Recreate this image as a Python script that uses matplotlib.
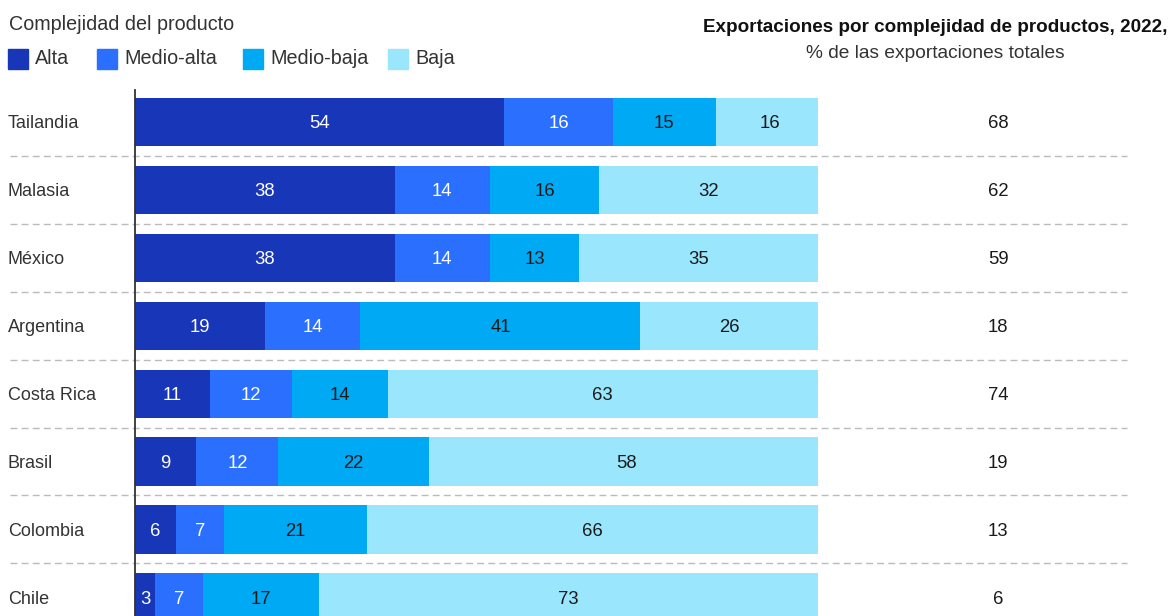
import numpy as np
import matplotlib.pyplot as plt
from matplotlib.patches import Rectangle

plt.rcParams['font.family'] = ['Liberation Sans', 'DejaVu Sans']

countries = ["Tailandia", "Malasia", "México", "Argentina", "Costa Rica",
             "Brasil", "Colombia", "Chile"]
alta = [54, 38, 38, 19, 11, 9, 6, 3]
medio_alta = [16, 14, 14, 14, 12, 12, 7, 7]
medio_baja = [15, 16, 13, 41, 14, 22, 21, 17]
baja = [16, 32, 35, 26, 63, 58, 66, 73]
totales = [68, 62, 59, 18, 74, 19, 13, 6]

series = ["Alta", "Medio-alta", "Medio-baja", "Baja"]
colors = ["#1736B8", "#2B6FFF", "#00A9F4", "#9AE6FD"]
txt_colors = ["white", "white", "#1a1a1a", "#1a1a1a"]

W, H = 1170, 616
fig = plt.figure(figsize=(W / 100, H / 100), dpi=100)
ax = fig.add_axes([135 / W, 0, 683 / W, (H - 90) / H])

y = np.arange(len(countries))
left = np.zeros(len(countries))
for vals, col, tc in zip([alta, medio_alta, medio_baja, baja], colors, txt_colors):
    vals = np.array(vals, dtype=float)
    ax.barh(y, vals, left=left, height=0.71, color=col, linewidth=0)
    for yi, l, v in zip(y, left, vals):
        ax.text(l + v / 2, yi, f"{v:.0f}", ha="center", va="center_baseline",
                color=tc, fontsize=13.3)
    left += vals

ax.set_xlim(0, 100)
ax.set_ylim(7.275, -0.471)

# dashed separators between rows
for yi in y[:-1]:
    ax.plot([-18.3, 145.2], [yi + 0.5, yi + 0.5], ls=(0, (5, 3)), lw=1,
            color="#bbbbbb", clip_on=False, zorder=0)

for yi, c, t in zip(y, countries, totales):
    ax.text(-18.6, yi, c, ha="left", va="center_baseline", fontsize=13,
            color="#333333")
    ax.text(126.4, yi, str(t), ha="center", va="center_baseline", fontsize=13.3,
            color="#1a1a1a")

for s in ["top", "right", "bottom"]:
    ax.spines[s].set_visible(False)
ax.spines["left"].set_color("#333333")
ax.spines["left"].set_linewidth(1.3)
ax.set_xticks([])
ax.set_yticks([])

# header text
fig.text(935 / W, 1 - 27 / H, "Exportaciones por complejidad de productos, 2022,",
         ha="center", va="center", fontsize=13.6, fontweight="bold", color="#111111")
fig.text(935 / W, 1 - 53 / H, "% de las exportaciones totales",
         ha="center", va="center", fontsize=13.8, color="#333333")

# legend
fig.text(9 / W, 1 - 25 / H, "Complejidad del producto", ha="left", va="center",
         fontsize=14.2, color="#333333")
sq_x = [8, 97, 243, 388]
for x0, lab, col in zip(sq_x, series, colors):
    fig.patches.append(Rectangle((x0 / W, 1 - 69 / H), 20 / W, 20 / H,
                                 transform=fig.transFigure, color=col))
    fig.text((x0 + 27) / W, 1 - 59 / H, lab, ha="left", va="center",
             fontsize=14.2, color="#333333")

plt.savefig("out.png", dpi=100)
